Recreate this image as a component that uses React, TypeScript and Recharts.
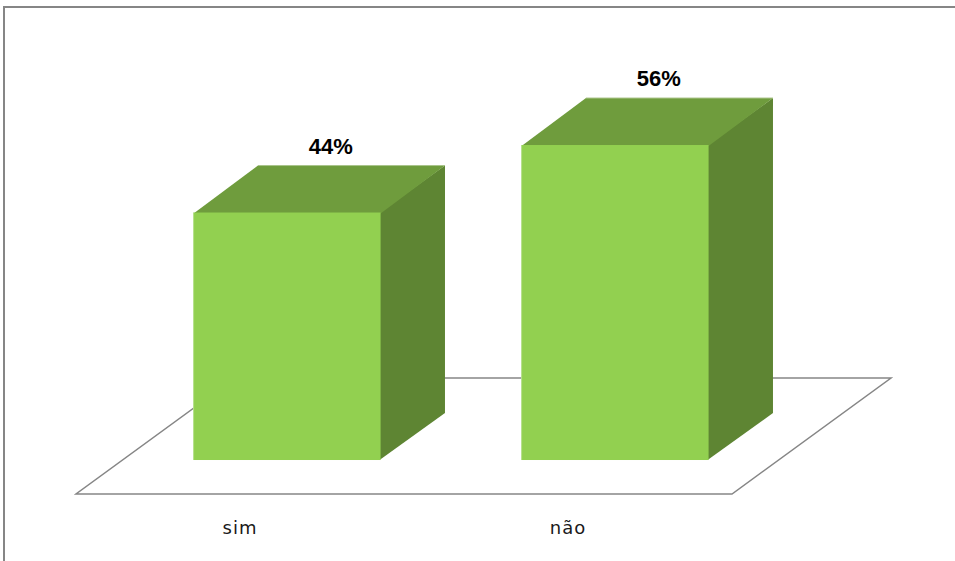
import React from 'react';
import { BarChart, Bar, XAxis, YAxis, LabelList, usePlotArea } from 'recharts';

const categories = ['sim', 'não'];
const values = [44, 56];
const labels = ['44%', '56%'];

const data = categories.map((c, i) => ({ name: c, value: values[i], label: labels[i] }));

const W = 955;
const H = 561;
// floor depth vector and bar placement within floor depth
const FLOOR_DX = 159;
const FLOOR_DY = -116;
const FRONT_FRAC = 0.293;
const DEPTH_FRAC = 0.405;
const FX = FLOOR_DX * FRONT_FRAC;
const FY = FLOOR_DY * FRONT_FRAC;
const DX = FLOOR_DX * DEPTH_FRAC;
const DY = FLOOR_DY * DEPTH_FRAC;

const FRONT = '#92D050';
const TOP = '#6F9C3D';
const SIDE = '#5E8533';
const LINE = '#868686';

const Box3D = (props: any) => {
  const { x, y, width, height } = props;
  const x0 = x + FX;
  const y0 = y + FY;
  const x1 = x0 + width;
  const yb = y + height + FY;
  return (
    <g>
      <polygon
        points={`${x1 - 1},${y0} ${x1 + DX},${y0 + DY} ${x1 + DX},${yb + DY} ${x1 - 1},${yb}`}
        fill={SIDE}
      />
      <polygon
        points={`${x0},${y0 + 1} ${x1},${y0 + 1} ${x1 + DX},${y0 + DY} ${x0 + DX},${y0 + DY}`}
        fill={TOP}
      />
      <line x1={x0 + DX} y1={y0 + DY} x2={x1 + DX} y2={y0 + DY} stroke="#A9C48A" strokeWidth={1} />
      <rect x={x0} y={y0} width={width} height={height} fill={FRONT} />
      <line x1={x0} y1={y0} x2={x0} y2={yb} stroke="#B5E08A" strokeWidth={1} />
    </g>
  );
};

const TopLabel = (props: any) => {
  const { x, y, width, value } = props;
  const cx = x + FX + width / 2 + DX * 0.68;
  const by = y + FY + DY - 12;
  return (
    <text
      x={cx}
      y={by}
      textAnchor="middle"
      fontFamily="Liberation Sans, Arial, sans-serif"
      fontWeight="bold"
      fontSize={22}
      fill="#000"
    >
      {value}
    </text>
  );
};

const CatTick = (props: any) => {
  const { x, y, payload } = props;
  return (
    <text
      x={x}
      y={y + 40}
      textAnchor="middle"
      fontFamily="DejaVu Sans, sans-serif"
      fontSize={18}
      letterSpacing={1}
      fill="#1a1a1a"
    >
      {payload.value}
    </text>
  );
};

const Floor = () => {
  const area = usePlotArea();
  if (!area) return null;
  const { x, y, width, height } = area;
  const by = y + height;
  const pts = [
    [x, by],
    [x + width, by],
    [x + width + FLOOR_DX, by + FLOOR_DY],
    [x + FLOOR_DX, by + FLOOR_DY],
  ];
  return (
    <polygon
      points={pts.map((p) => p.join(',')).join(' ')}
      fill="none"
      stroke={LINE}
      strokeWidth={1.5}
    />
  );
};

export default function App() {
  return (
    <div style={{ position: 'absolute', left: 0, top: 0, width: W, height: H, overflow: 'hidden', background: '#fff' }}>
      <div
        style={{
          position: 'absolute',
          left: 3,
          top: 6,
          width: W + 50,
          height: H + 50,
          border: '2px solid #868686',
          boxSizing: 'border-box',
        }}
      />
      <div style={{ position: 'absolute', left: 0, top: 0 }}>
        <BarChart
          width={W}
          height={H}
          data={data}
          margin={{ top: 44, right: 223, bottom: 27, left: 76 }}
          barSize={187}
        >
          <Floor />
          <XAxis
            dataKey="name"
            axisLine={false}
            tickLine={false}
            tickSize={0}
            tickMargin={0}
            height={40}
            tick={<CatTick />}
            interval={0}
          />
          <YAxis hide domain={[0, 80]} />
          <Bar dataKey="value" shape={<Box3D />} isAnimationActive={false}>
            <LabelList dataKey="label" content={<TopLabel />} />
          </Bar>
        </BarChart>
      </div>
    </div>
  );
}
